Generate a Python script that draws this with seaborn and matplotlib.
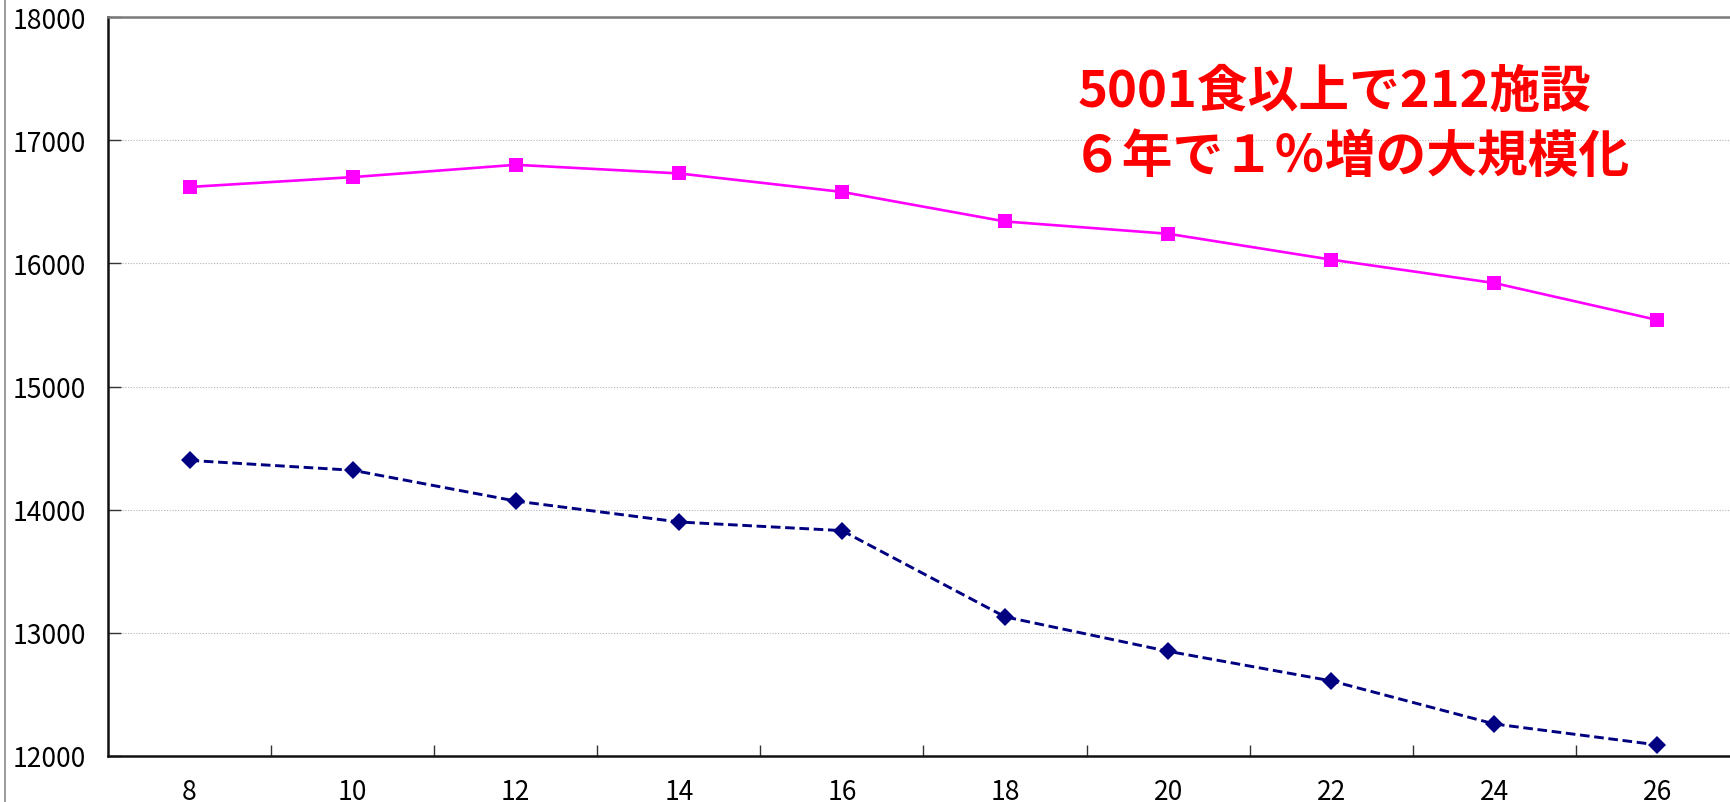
import matplotlib
matplotlib.use("Agg")
import matplotlib.pyplot as plt
from matplotlib.lines import Line2D
import seaborn as sns

# Fiscal years (Heisei) and facility counts for the two size bands
years = [8, 10, 12, 14, 16, 18, 20, 22, 24, 26]
large_facilities = [16620, 16700, 16800, 16730, 16580, 16340, 16240, 16030, 15840, 15540]
small_facilities = [14400, 14320, 14070, 13900, 13830, 13130, 12850, 12610, 12260, 12090]
y_ticks = [12000, 13000, 14000, 15000, 16000, 17000, 18000]
note_lines = ["5001食以上で212施設", "６年で１％増の大規模化"]

sns.set_style("white")
plt.rcParams["font.family"] = ["Noto Sans CJK JP", "DejaVu Sans"]

W, H = 1731, 803
fig = plt.figure(figsize=(W / 100, H / 100), dpi=100)
left, right, top, bottom = 108, 1739, 18, 757
ax = fig.add_axes([left / W, (H - bottom) / H, (right - left) / W, (bottom - top) / H])

sns.lineplot(x=years, y=large_facilities, ax=ax, color="#FF00FF", linewidth=1.9,
             marker="s", markersize=10, markeredgecolor="#FF00FF", markeredgewidth=0)
sns.lineplot(x=years, y=small_facilities, ax=ax, color="#000080", linewidth=2.1,
             linestyle=(0, (3.3, 1.6)),
             marker="D", markersize=9, markeredgecolor="#000080", markeredgewidth=0)

ax.set_xlim(7, 27)
ax.set_ylim(y_ticks[0], y_ticks[-1])
ax.set_yticks(y_ticks)
ax.set_yticklabels([str(v) for v in y_ticks])
ax.set_xticks(years)
ax.set_xticklabels([str(y) for y in years])
ax.set_xticks([y + 1 for y in years[:-1]], minor=True)

ax.tick_params(axis="x", which="major", length=0, pad=16, labelsize=19)
ax.tick_params(axis="x", which="minor", length=8, width=1, direction="in", color="#333333", bottom=True)
ax.tick_params(axis="y", which="major", length=9, width=1, direction="in", pad=16,
               labelsize=19, color="#333333", left=True)
for lab in ax.get_yticklabels() + ax.get_xticklabels():
    lab.set_color("black")

ax.grid(axis="y", color="#b4b4b4", linestyle=(0, (1, 1.5)), linewidth=0.8)
ax.grid(axis="x", visible=False)
ax.set_axisbelow(True)

for side in ["left", "bottom"]:
    ax.spines[side].set_color("#111111")
    ax.spines[side].set_linewidth(1.8)
ax.spines["top"].set_color("#7a7a7a")
ax.spines["top"].set_linewidth(1.8)
ax.spines["right"].set_color("#7a7a7a")
ax.set_xlabel("")
ax.set_ylabel("")

# Annotation
fig.text(1078 / W, 1 - 92 / H, note_lines[0], color="#FF0000", fontsize=36.5,
         fontweight="bold", ha="left", va="center")
fig.text(1072 / W, 1 - 157 / H, note_lines[1], color="#FF0000", fontsize=36.5,
         fontweight="bold", ha="left", va="center")

# thin frame edge on the left
fig.add_artist(Line2D([5 / W, 5 / W], [0, 1], color="#8a8a8a", linewidth=1.2))

fig.savefig("out.png", dpi=100, facecolor="white")
